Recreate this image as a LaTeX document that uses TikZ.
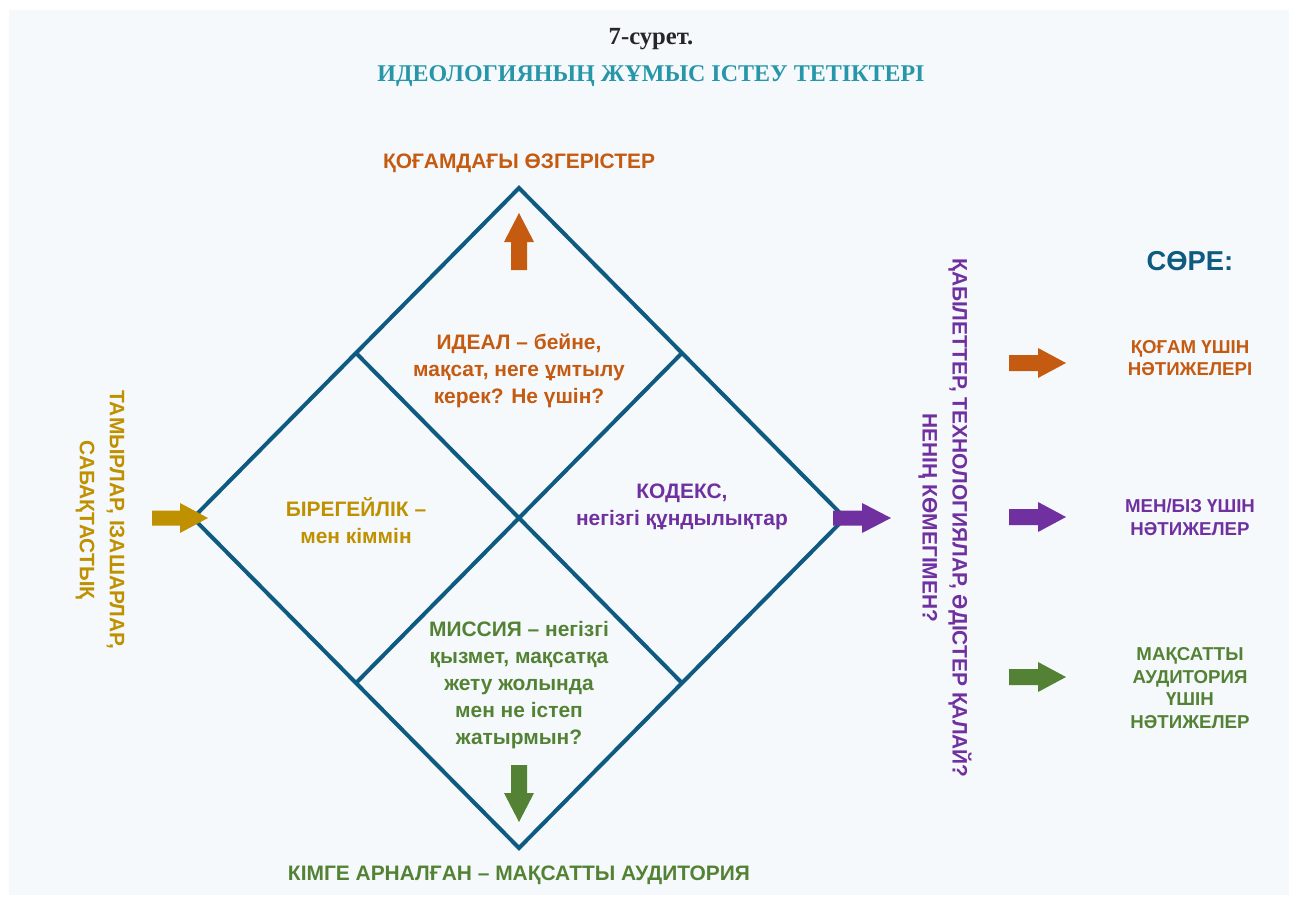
\documentclass[tikz,border=0pt]{standalone}
\usepackage{fontspec}
\setmainfont{Liberation Sans}
\newfontfamily\titlefont{Liberation Serif}
\usetikzlibrary{positioning}
\definecolor{bgblue}{RGB}{245,249,252}
\definecolor{dmdline}{RGB}{14,90,128}
\definecolor{idealor}{RGB}{197,90,17}
\definecolor{rootgold}{RGB}{191,144,0}
\definecolor{codexpur}{RGB}{112,48,160}
\definecolor{missgrn}{RGB}{84,130,53}
\definecolor{titleteal}{RGB}{38,150,168}

\begin{document}
\begin{tikzpicture}[x=0.75pt,y=0.75pt,yscale=-1,xscale=1,
  lbl/.style={inner sep=0.75pt, align=center, font=\bfseries\fontsize{15.7}{20.4}\selectfont},
  sidelbl/.style={lbl, rotate=-90, font=\bfseries\fontsize{15.7}{22.5}\selectfont},
  keylbl/.style={inner sep=0.75pt, align=center, font=\bfseries\fontsize{14}{17}\selectfont},
  barrow/.style={draw=none}]
\useasboundingbox (0,0) rectangle (1297,903);

%Shape: Background
\fill[white] (0,0) rectangle (1297,903);
\fill[bgblue] (9,10) rectangle (1289,895);

%Shape: Diamond corners
\coordinate (top) at (519,188);
\coordinate (bot) at (519,848);
\coordinate (lft) at (193,518);
\coordinate (rgt) at (845,518);
\coordinate (tl) at (356,353);
\coordinate (tr) at (682,353);
\coordinate (bl) at (356,683);
\coordinate (br) at (682,683);
%Shape: Diamond
\draw [color=dmdline, line width=3pt] (top) -- (rgt) -- (bot) -- (lft) -- cycle ;
%Straight Lines
\draw [color=dmdline, line width=3pt] (tl) -- (br) ;
\draw [color=dmdline, line width=3pt] (tr) -- (bl) ;

%Block Arrows
\fill [barrow, idealor] (519,213) -- (504,242) -- (511,242) -- (511,270) -- (527,270) -- (527,242) -- (534,242) -- cycle ;
\fill [barrow, missgrn] (519,822) -- (504,793) -- (511,793) -- (511,765) -- (527,765) -- (527,793) -- (534,793) -- cycle ;
\fill [barrow, rootgold] (208,518) -- (180,503) -- (180,510.5) -- (152,510.5) -- (152,525.5) -- (180,525.5) -- (180,533) -- cycle ;
\fill [barrow, codexpur] (891,518) -- (862,503) -- (862,510.5) -- (833,510.5) -- (833,525.5) -- (862,525.5) -- (862,533) -- cycle ;
%Legend arrows
\fill [barrow, idealor] (1066,363) -- (1038,348) -- (1038,355) -- (1009,355) -- (1009,371) -- (1038,371) -- (1038,378) -- cycle ;
\fill [barrow, codexpur] (1066,517) -- (1038,502) -- (1038,509) -- (1009,509) -- (1009,525) -- (1038,525) -- (1038,532) -- cycle ;
\fill [barrow, missgrn] (1066,677) -- (1038,662) -- (1038,669) -- (1009,669) -- (1009,685) -- (1038,685) -- (1038,692) -- cycle ;

% Text Node
\draw (651,39) node (fignum) [inner sep=0.75pt] [font=\titlefont\bfseries\fontsize{18.5}{22}\selectfont, color=black!85] {7-сурет.};
% Text Node
\draw (651,76) node (figtitle) [inner sep=0.75pt] [font=\titlefont\bfseries\fontsize{18}{22}\selectfont, color=titleteal] {ИДЕОЛОГИЯНЫҢ ЖҰМЫС ІСТЕУ ТЕТІКТЕРІ};
% Text Node
\draw (519,163) node (changes) [lbl, color=idealor] {ҚОҒАМДАҒЫ ӨЗГЕРІСТЕР};
% Text Node
\draw (519,875) node (audience) [lbl, color=missgrn] {КІМГЕ АРНАЛҒАН – МАҚСАТТЫ АУДИТОРИЯ};
% Text Node
\draw (519,371) node (ideal) [lbl, color=idealor] {ИДЕАЛ – бейне,\\мақсат, неге ұмтылу\\керек? Не үшін?};
% Text Node
\draw (519,685) node (mission) [lbl, color=missgrn] {МИССИЯ – негізгі\\қызмет, мақсатқа\\жету жолында\\мен не істеп\\жатырмын?};
% Text Node
\draw (356,521) node (identity) [lbl, color=rootgold] {БІРЕГЕЙЛІК –\\мен кіммін};
% Text Node
\draw (682,507) node (codex) [lbl, color=codexpur] {КОДЕКС,\\негізгі құндылықтар};
% Text Node
\draw (100,520) node (roots) [sidelbl, color=rootgold] {ТАМЫРЛАР, ІЗАШАРЛАР,\\САБАҚТАСТЫҚ};
% Text Node
\draw (945,518) node (skills) [sidelbl, color=codexpur] {ҚАБІЛЕТТЕР, ТЕХНОЛОГИЯЛАР, ӘДІСТЕР ҚАЛАЙ?\\НЕНІҢ КӨМЕГІМЕН?};
% Text Node
\draw (1190,261) node (legend) [inner sep=0.75pt] [font=\bfseries\fontsize{20.5}{24}\selectfont, color=dmdline] {СӨРЕ:};
% Text Node
\draw (1190,358) node (keysoc) [keylbl, color=idealor] {ҚОҒАМ ҮШІН\\НӘТИЖЕЛЕРІ};
% Text Node
\draw (1190,517) node (keyme) [keylbl, color=codexpur] {МЕН/БІЗ ҮШІН\\НӘТИЖЕЛЕР};
% Text Node
\draw (1190,688) node (keyaud) [keylbl, color=missgrn] {МАҚСАТТЫ\\АУДИТОРИЯ\\ҮШІН\\НӘТИЖЕЛЕР};

\end{tikzpicture}
\end{document}
